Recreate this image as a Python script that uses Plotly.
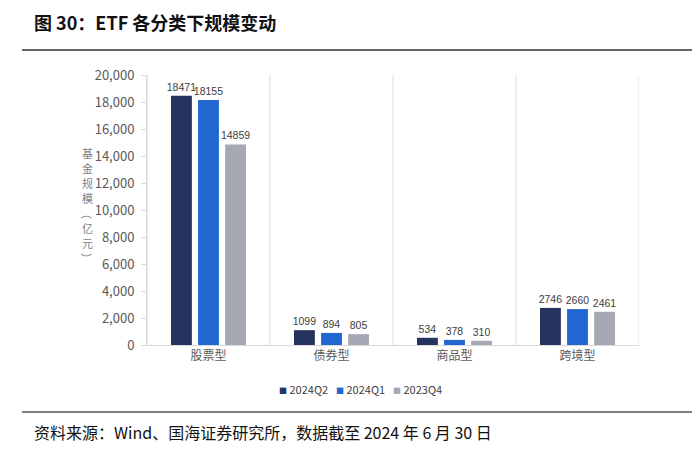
import plotly.graph_objects as go

categories = ["股票型", "债券型", "商品型", "跨境型"]
series_names = ["2024Q2", "2024Q1", "2023Q4"]
q2_2024 = [18471, 1099, 534, 2746]
q1_2024 = [18155, 894, 378, 2660]
q4_2023 = [14859, 805, 310, 2461]
y_ticks = [0, 2000, 4000, 6000, 8000, 10000, 12000, 14000, 16000, 18000, 20000]
y_tick_labels = ["0", "2,000", "4,000", "6,000", "8,000", "10,000", "12,000",
                 "14,000", "16,000", "18,000", "20,000"]

colors = ["#25335e", "#2166d1", "#a6a8b6"]
series_values = [q2_2024, q1_2024, q4_2023]

CJK = "Noto Sans CJK SC"
LAB = "Liberation Sans, Arial, sans-serif"

# page body has an 8px default margin
OFF = 8
FW, FH = 700 - OFF, 453 - OFF

fig = go.Figure()
for name, vals, col in zip(series_names, series_values, colors):
    fig.add_trace(go.Bar(
        x=categories, y=vals, name=name,
        marker=dict(color=col, line=dict(width=0)),
        text=[str(v) for v in vals], textposition="outside",
        constraintext="none",
        textfont=dict(family=LAB, size=10.5, color="#404040"),
        cliponaxis=False, showlegend=False,
    ))

L, R, T, B = 147, 639, 75, 345
W, H = R - L, B - T

def px(x):
    return (x - L) / W

def py(y):
    return (B - y) / H

shapes = []
for xv in [-0.5, 0.5, 1.5, 2.5, 3.5]:
    shapes.append(dict(type="line", xref="x", yref="paper", x0=xv, x1=xv, y0=0, y1=1,
                       line=dict(color="#dcdcdc", width=1)))
shapes.append(dict(type="line", xref="paper", yref="paper", x0=px(22), x1=px(692),
                   y0=py(50), y1=py(50), line=dict(color="#333333", width=1.5)))
shapes.append(dict(type="line", xref="paper", yref="paper", x0=px(22), x1=px(692),
                   y0=py(412), y1=py(412), line=dict(color="#555555", width=1.5)))

annotations = [
    dict(text="<b>图 30：ETF 各分类下规模变动</b>", xref="paper", yref="paper",
         x=px(32), y=py(22), xanchor="left", yanchor="middle", showarrow=False,
         font=dict(family=CJK, size=18, color="#111111")),
    dict(text="资料来源：Wind、国海证券研究所，数据截至 2024 年 6 月 30 日",
         xref="paper", yref="paper", x=px(32), y=py(432), xanchor="left",
         yanchor="middle", showarrow=False,
         font=dict(family=CJK, size=16, color="#111111")),
]

# vertical y-axis title: upright characters, parentheses rotated
ytitle_parts = [("基", 0), ("金", 0), ("规", 0), ("模", 0), ("（", 90), ("亿", 0), ("元", 0), ("）", 90)]
for i, (ch, ang) in enumerate(ytitle_parts):
    annotations.append(dict(text=ch, xref="paper", yref="paper", x=px(87),
                            y=py(153 + i * 15), xanchor="center", yanchor="middle",
                            showarrow=False, textangle=ang, height=14,
                            font=dict(family=CJK, size=11, color="#808080")))

# legend built from series names and colours
for i, (name, col) in enumerate(zip(series_names, colors)):
    annotations.append(dict(
        text=f"<span style='color:{col};font-size:8px'>■</span> {name}",
        xref="paper", yref="paper", x=px(277 + i * 57), y=py(389),
        xanchor="left", yanchor="middle", showarrow=False,
        font=dict(family=CJK, size=11, color="#404040")))

fig.update_layout(
    width=FW, height=FH,
    margin=dict(l=L - OFF, r=700 - R, t=T - OFF, b=453 - B, pad=0),
    paper_bgcolor="white", plot_bgcolor="white",
    barmode="group", bargap=0.34, bargroupgap=0.23,
    showlegend=False,
    shapes=shapes, annotations=annotations,
    xaxis=dict(range=[-0.5, 3.5], showline=True, linecolor="#d9d9d9", linewidth=1,
               ticks="", showgrid=False,
               tickfont=dict(family=CJK, size=12, color="#595959")),
    yaxis=dict(range=[0, 20000], tickvals=y_ticks, ticktext=y_tick_labels,
               showline=True, linecolor="#d9d9d9", linewidth=1,
               ticks="outside", ticklen=5, tickcolor="#d9d9d9", showgrid=False,
               zeroline=False, ticklabelstandoff=4,
               tickfont=dict(family=CJK, size=13, color="#595959")),
)

fig.write_html("out.html")
